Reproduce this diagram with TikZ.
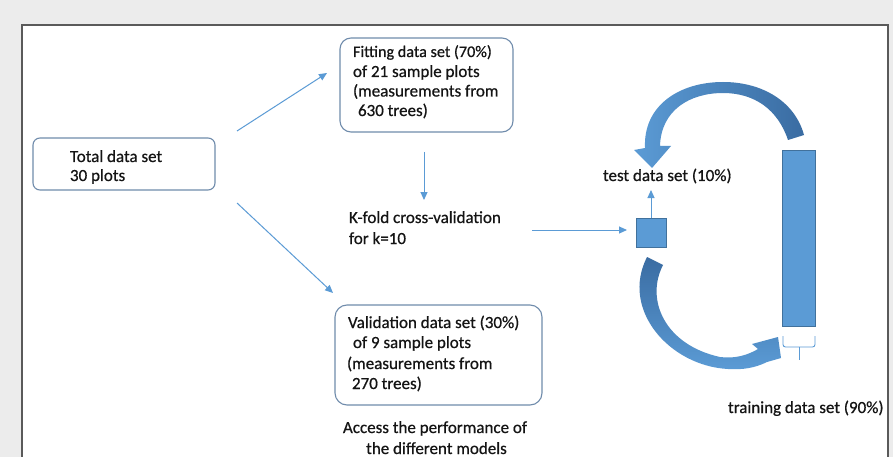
\documentclass[tikz,border=0pt]{standalone}
\usepackage{fontspec}
\setmainfont{Carlito}[FakeBold=0.6]
\usetikzlibrary{arrows.meta}
\definecolor{bg}{RGB}{236,236,236}
\definecolor{panelline}{RGB}{90,90,90}
\definecolor{boxcol}{RGB}{112,140,172}
\definecolor{linecol}{RGB}{91,155,213}
\definecolor{fillcol}{RGB}{91,155,213}
\definecolor{fillline}{RGB}{65,113,156}
\definecolor{darkarrow}{RGB}{58,108,162}
\definecolor{txtcol}{RGB}{20,20,20}
\begin{document}
\begin{tikzpicture}[x=1pt,y=-1pt,
  rbox/.style={draw=boxcol, line width=1.1pt, inner sep=0pt, outer sep=0pt},
  blk/.style={fill=fillcol, draw=fillline, line width=0.6pt, inner sep=0pt, outer sep=0pt},
  txt/.style={anchor=base west, inner sep=0pt, outer sep=0pt, text=txtcol, font=\fontsize{17}{20}\selectfont},
  ctxt/.style={txt, anchor=base},
  conn/.style={draw=linecol, line width=1pt, -{Triangle[length=8pt,width=7pt]}},
]
\useasboundingbox (0,0) rectangle (893,457);
\fill[bg] (0,0) rectangle (893,457);
\fill[white] (22,25) rectangle (888,457);
\draw[panelline, line width=1.3pt] (22,457) -- (22,25) -- (888,25) -- (888,457);

% boxes
\node[rbox, rounded corners=7pt, minimum width=182pt, minimum height=52pt] (total) at (124,164) {};
\node[rbox, rounded corners=11pt, minimum width=173pt, minimum height=94pt] (fit) at (426.5,85) {};
\node[rbox, rounded corners=12pt, minimum width=207pt, minimum height=100pt] (val) at (438.5,355) {};

% texts
\node[txt] (t1) at (70,162) {Total data set};
\node[txt] (t2) at (70,181) {30 plots};

\node[txt, font=\fontsize{16.2}{20}\selectfont] (f1) at (353,57) {Fitting data set (70\%)};
\node[txt] (f2) at (353,77) {of 21 sample plots};
\node[txt] (f3) at (353,96.5) {(measurements from};
\node[txt] (f4) at (358,116) {630 trees)};

\node[txt] (k1) at (349,223) {K-fold cross-validation};
\node[txt] (k2) at (349,244) {for k=10};

\node[txt] (v1) at (348,328) {Validation data set (30\%)};
\node[txt] (v2) at (353,348) {of 9 sample plots};
\node[txt] (v3) at (347,369) {(measurements from};
\node[txt] (v4) at (352,389) {270 trees)};

\node[ctxt] (acc1) at (435,433) {Access the performance of};
\node[ctxt] (acc2) at (436.5,454) {the different models};

\node[txt] (test) at (603,181) {test data set (10\%)};
\node[txt] (train) at (728,413) {training data set (90\%)};

% blocks
\node[blk, minimum width=30pt, minimum height=29pt] (sq) at (651,232.5) {};
\node[blk, minimum width=33pt, minimum height=176pt] (bar) at (798.5,238) {};

% straight connectors
\coordinate (a1s) at (237,131);
\coordinate (a1e) at (327,73);
\coordinate (a2s) at (237,203);
\coordinate (a2e) at (333,293);
\coordinate (a3s) at (424,152);
\coordinate (a3e) at (424,200);
\coordinate (a4s) at (532,230);
\coordinate (a4e) at (627,230);
\coordinate (a5e) at (651,190);
\draw[conn] (a1s) -- (a1e);
\draw[conn] (a2s) -- (a2e);
\draw[conn] (a3s) -- (a3e);
\draw[conn] (a4s) -- (a4e);
\draw[conn] (sq.north) -- (a5e);

% curved arrow: training -> test
\shade[left color=fillcol, right color=darkarrow]
  (788,140) .. controls (778,110) and (755,93) .. (723,93)
  .. controls (690,93) and (661,110) .. (660,146)
  -- (671,146) -- (652,168) -- (634,150) -- (645,148)
  .. controls (643,105) and (680,82) .. (723,82)
  .. controls (763,82) and (795,102) .. (804,135) -- cycle;

% curved arrow: test -> training
\shade[top color=darkarrow, bottom color=fillcol]
  (663,265) .. controls (645,300) and (665,345) .. (720,357)
  .. controls (735,359) and (748,355) .. (758,349)
  -- (752,344) -- (778,337) -- (781,358) -- (767,362)
  .. controls (755,368) and (742,370) .. (728,369)
  .. controls (670,366) and (620,310) .. (647,257) -- cycle;

% bracket below bar
\draw[linecol, line width=0.9pt, rounded corners=2.5pt] (783,336) -- (783,347) -- (815,347) -- (815,336);
\draw[linecol, line width=0.9pt] (799,347) -- (799,360);
\end{tikzpicture}
\end{document}
